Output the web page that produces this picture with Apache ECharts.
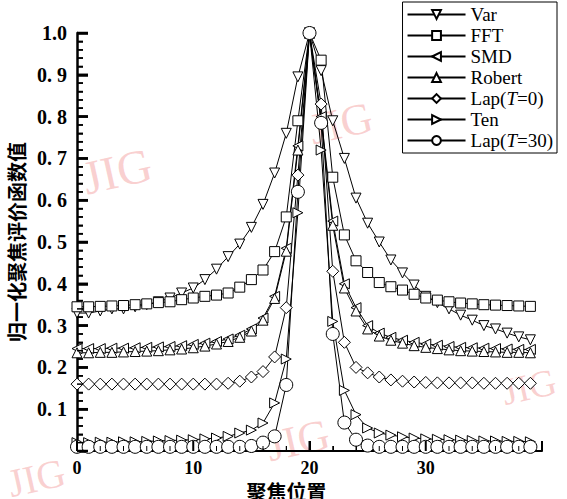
<!DOCTYPE html>
<html>
<head>
<meta charset="utf-8">
<script src="https://cdn.jsdelivr.net/npm/echarts@6/dist/echarts.min.js"></script>
<style>
  html, body { margin: 0; padding: 0; background: #fff; }
  #main { width: 567px; height: 499px; }
</style>
</head>
<body>
<div id="main"></div>
<script>
// 聚焦位置 0..39，峰值在 20
var positions = [];
for (var k = 0; k < 40; k++) positions.push(k);

var varData = [0.33,0.33,0.335,0.34,0.34,0.345,0.35,0.357,0.366,0.378,0.39,0.41,0.435,0.465,
  0.495,0.535,0.59,0.665,0.76,0.895,1.0,
  0.91,0.79,0.70,0.605,0.545,0.50,0.457,0.426,0.397,0.37,0.355,0.34,0.325,0.313,0.30,0.292,0.282,0.273,0.266];
var fftData = [0.345,0.345,0.346,0.347,0.348,0.35,0.352,0.355,0.357,0.362,0.366,0.37,0.373,0.378,
  0.392,0.41,0.433,0.477,0.56,0.79,1.0,
  0.935,0.655,0.517,0.455,0.427,0.403,0.393,0.385,0.375,0.366,0.361,0.357,0.354,0.352,0.35,0.349,0.348,0.347,0.346];
var smdData = [0.245,0.245,0.245,0.246,0.246,0.247,0.248,0.249,0.25,0.252,0.255,0.258,0.262,0.268,
  0.277,0.292,0.318,0.37,0.485,0.73,1.0,
  0.80,0.55,0.40,0.343,0.30,0.282,0.272,0.265,0.26,0.256,0.253,0.25,0.248,0.247,0.246,0.245,0.244,0.243,0.243];
var robertData = [0.235,0.235,0.236,0.236,0.237,0.238,0.239,0.24,0.242,0.244,0.247,0.251,0.256,0.262,
  0.272,0.287,0.313,0.365,0.478,0.72,1.0,
  0.79,0.54,0.39,0.335,0.292,0.275,0.265,0.258,0.252,0.248,0.245,0.242,0.24,0.239,0.238,0.237,0.236,0.236,0.235];
var lap0Data = [0.16,0.16,0.16,0.16,0.16,0.16,0.16,0.16,0.16,0.16,0.16,0.16,0.16,0.162,
  0.167,0.177,0.19,0.225,0.343,0.66,1.0,
  0.83,0.43,0.26,0.20,0.187,0.177,0.17,0.167,0.165,0.164,0.163,0.163,0.163,0.163,0.162,0.162,0.162,0.162,0.162];
var tenData = [0.02,0.02,0.021,0.021,0.022,0.022,0.023,0.024,0.025,0.026,0.027,0.029,0.031,0.035,
  0.043,0.05,0.067,0.115,0.22,0.57,1.0,
  0.72,0.31,0.145,0.087,0.055,0.043,0.038,0.034,0.031,0.029,0.028,0.027,0.026,0.025,0.024,0.024,0.023,0.023,0.022];
var lap30Data = [0.01,0.01,0.01,0.01,0.01,0.01,0.01,0.01,0.01,0.01,0.01,0.01,0.01,0.01,0.01,0.012,
  0.02,0.035,0.158,0.62,1.0,
  0.785,0.28,0.068,0.027,0.013,0.01,0.01,0.01,0.01,0.01,0.01,0.01,0.01,0.01,0.01,0.01,0.01,0.01,0.01];

// 刻度
var xTicks = [0, 10, 20, 30, 40];
var yTicks = [0, 0.1, 0.2, 0.3, 0.4, 0.5, 0.6, 0.7, 0.8, 0.9, 1.0];
var xMinorStep = 2, yMinorStep = 0.02;

var seriesNames = ['Var', 'FFT', 'SMD', 'Robert', 'Lap(T=0)', 'Ten', 'Lap(T=30)'];
var seriesValues = [varData, fftData, smdData, robertData, lap0Data, tenData, lap30Data];
var seriesSymbols = ['triangle', 'rect', 'triangle', 'triangle', 'diamond', 'triangle', 'circle'];
var symbolRotates = [180, 0, 90, 0, 0, -90, 0];
var symbolSizes = [10, 10, 10, 10, 12, 10, 13];

var serif = '"Liberation Serif", "DejaVu Serif", serif';
var cjk = '"Noto Sans CJK SC", sans-serif';

var series = seriesNames.map(function (name, s) {
  return {
    name: name,
    type: 'line',
    data: seriesValues[s].map(function (v, i) { return [positions[i], v]; }),
    symbol: seriesSymbols[s],
    symbolRotate: symbolRotates[s],
    symbolSize: symbolSizes[s],
    showAllSymbol: true,
    lineStyle: { color: '#000', width: 1 },
    itemStyle: { color: '#fff', borderColor: '#000', borderWidth: 1 },
    emphasis: { disabled: true },
    animation: false
  };
});

// 内向刻度，备用（位置由坐标系换算）
function seg(p1, p2, w) {
  return { type: 'line', shape: { x1: p1[0], y1: p1[1], x2: p2[0], y2: p2[1] },
    style: { stroke: '#000', lineWidth: w } };
}
function renderTicks(params, api) {
  var xMin = xTicks[0], xMax = xTicks[xTicks.length - 1];
  var yMin = yTicks[0], yMax = yTicks[yTicks.length - 1];
  var kids = [];
  var v, p, i;
  for (i = 0; yMin + i * yMinorStep <= yMax + 1e-9; i++) {
    v = yMin + i * yMinorStep;
    p = api.coord([xMin, v]);
    var major = i % 5 === 0;
    kids.push(seg(p, [p[0] + (major ? 11 : 6), p[1]], major ? 2.5 : 1.5));
  }
  for (v = xMin; v <= xMax; v += xMinorStep) {
    p = api.coord([v, yMin]);
    var majorX = v % 10 === 0;
    kids.push(seg(p, [p[0], p[1] - (majorX ? 10 : 5)], majorX ? 2 : 1));
  }
  return { type: 'group', children: kids };
}
series.push({
  name: 'ticks', type: 'custom', data: [[0, 0]], renderItem: renderTicks,
  silent: true, clip: false, z: 10, animation: false
});

function watermark(x, y, size) {
  return {
    type: 'text', left: x, top: y, z: -10, rotation: 0.22,
    style: { text: 'JIG', fill: 'rgba(238,120,120,0.35)', font: size + 'px ' + serif }
  };
}

// svg 渲染
var myChart = echarts.init(document.getElementById('main'), null, { renderer: 'svg' });
var option = {
  backgroundColor: '#fff',
  animation: false,
  grid: { left: 77, right: 25, top: 33, bottom: 48, outerBoundsMode: 'none' },
  legend: {
    orient: 'vertical',
    right: 10, top: 2,
    data: seriesNames,
    backgroundColor: '#fff',
    borderColor: '#000',
    borderWidth: 1,
    padding: [3, 4, 3, 4],
    itemGap: 2,
    itemWidth: 58,
    itemHeight: 11,
    textStyle: { color: '#000', fontFamily: serif, fontSize: 19, lineHeight: 19,
      rich: { i: { fontStyle: 'italic', fontFamily: serif, fontSize: 19, lineHeight: 19, color: '#000' } } },
    formatter: function (name) { return name.replace('T=', '{i|T}='); }
  },
  xAxis: {
    type: 'value', min: xTicks[0], max: xTicks[xTicks.length - 1], interval: 10,
    name: '聚焦位置', nameLocation: 'middle', nameGap: 20,
    nameTextStyle: { fontFamily: cjk, fontWeight: 'bold', fontSize: 20, color: '#000', padding: [0, 46, 0, 0] },
    axisLine: { show: true, onZero: false, lineStyle: { color: '#000', width: 2 } },
    axisTick: { show: true, inside: true, length: 10, lineStyle: { color: '#000', width: 2 } },
    minorTick: { show: true, splitNumber: 5, length: 5, lineStyle: { color: '#000', width: 1 } },
    splitLine: { show: false },
    minorSplitLine: { show: false },
    axisLabel: { fontFamily: serif, fontWeight: 'bold', fontSize: 18, color: '#000', margin: 8,
      formatter: function (v) { return v === 40 ? '' : String(v); } }
  },
  yAxis: {
    type: 'value', min: yTicks[0], max: yTicks[yTicks.length - 1], interval: 0.1,
    name: '归一化聚焦评价函数值', nameLocation: 'middle', nameGap: 50,
    nameTextStyle: { fontFamily: cjk, fontWeight: 'bold', fontSize: 20, color: '#000' },
    axisLine: { show: true, lineStyle: { color: '#000', width: 2.5 } },
    axisTick: { show: true, inside: true, length: 11, lineStyle: { color: '#000', width: 2.5 } },
    minorTick: { show: true, splitNumber: 5, length: 6, lineStyle: { color: '#000', width: 1.5 } },
    splitLine: { show: false },
    minorSplitLine: { show: false },
    axisLabel: { fontFamily: serif, fontWeight: 'bold', fontSize: 20, color: '#000', margin: 10,
      formatter: function (v) { return v === 0 ? '' : v.toFixed(1).replace('0.', '0. '); } }
  },
  graphic: [
    watermark(78, 140, 48),
    watermark(305, 95, 44),
    watermark(262, 412, 44),
    watermark(498, 362, 38),
    watermark(4, 452, 40)
  ],
  series: series
};
myChart.setOption(option);
</script>
</body>
</html>
